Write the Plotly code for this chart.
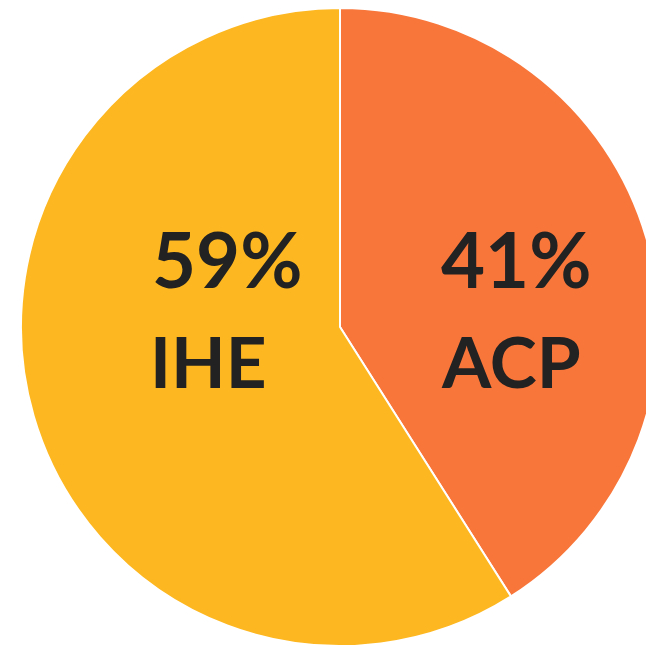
import plotly.graph_objects as go

labels = ["ACP", "IHE"]
values = [41, 59]
colors = ["#F8763A", "#FDB720"]

W, H = 654, 651
fig = go.Figure(go.Pie(
    labels=labels,
    values=values,
    sort=False,
    direction="clockwise",
    rotation=0,
    marker=dict(colors=colors, line=dict(color="white", width=2)),
    textinfo="none",
    hoverinfo="label+percent",
    domain=dict(x=[13 / W, 651 / W], y=[13 / H, 1.0]),
    showlegend=False,
))

total = sum(values)
# (x, y) centres in plot pixels for percent text and label text
pos = {"ACP": ((508, 250), (503.5, 352)), "IHE": ((219, 250), (200.5, 352))}
pct_font = dict(family="Lato", size=76, color="#222222", weight="bold")
lab_font = dict(family="Lato", size=71, color="#222222", weight="bold")
for lab, val in zip(labels, values):
    (px, py), (lx, ly) = pos[lab]
    fig.add_annotation(x=px / W, y=1 - py / H, xref="paper", yref="paper",
                       xanchor="center", yanchor="middle",
                       text=f"{round(100 * val / total)}%", showarrow=False, font=pct_font)
    fig.add_annotation(x=lx / W, y=1 - ly / H, xref="paper", yref="paper",
                       xanchor="center", yanchor="middle",
                       text=lab, showarrow=False, font=lab_font)

fig.update_layout(
    width=W, height=H,
    margin=dict(l=0, r=0, t=0, b=0),
    paper_bgcolor="white", plot_bgcolor="white",
)
fig.write_html("out.html")
